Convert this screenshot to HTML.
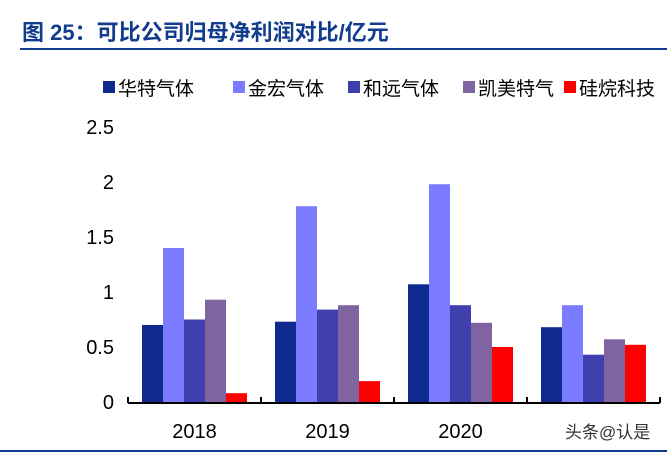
<!DOCTYPE html>
<html><head><meta charset="utf-8"><style>
body{margin:0;width:667px;height:453px;background:#fff;overflow:hidden;font-family:"Liberation Sans","Noto Sans CJK SC",sans-serif}
</style></head><body>
<svg width="667" height="453">
<text x="22" y="40" font-size="22" font-weight="bold" fill="#123d8e" font-family="Liberation Sans, Noto Sans CJK SC, sans-serif">图 25：可比公司归母净利润对比/亿元</text>
<rect x="20" y="48" width="647" height="2" fill="#123d8e"/>
<g id="legend"></g>
<g id="plot"></g>
<text x="565" y="438" font-size="17" fill="#333">头条@认是</text>
<rect x="0" y="450" width="667" height="2" fill="#123d8e"/>
</svg>
<script>
const categories=["2018","2019","2020",""];
const seriesNames=["华特气体","金宏气体","和远气体","凯美特气","硅烷科技"];
const s1=[0.70,0.73,1.07,0.68];
const s2=[1.40,1.78,1.98,0.88];
const s3=[0.75,0.84,0.88,0.43];
const s4=[0.93,0.88,0.72,0.57];
const s5=[0.08,0.19,0.50,0.52];
const yTicks=["0","0.5","1","1.5","2","2.5"];
const colors=["#0e2a8e","#7b7bff","#3f3fae","#8064a2","#ff0000"];
const series=[s1,s2,s3,s4,s5];
const NS="http://www.w3.org/2000/svg";
const plot=document.getElementById('plot'),legend=document.getElementById('legend');
const x0=128,x1=660,y0=402,yTop=127,yMax=2.5;
const y=v=>y0-(v/yMax)*(y0-yTop);
const gw=(x1-x0)/categories.length,bw=21,off=(gw-bw*5)/2;
function mk(t,a){const e=document.createElementNS(NS,t);for(const k in a)e.setAttribute(k,a[k]);return e;}
yTicks.forEach((t,i)=>{const v=parseFloat(t);const e=mk('text',{x:114,y:y(v)+7,'text-anchor':'end','font-size':20,fill:'#000'});e.textContent=t;


plot.appendChild(e);});
series.forEach((s,si)=>s.forEach((v,ci)=>{const r=mk('rect',{x:x0+ci*gw+off+si*bw,y:y(v),width:bw,height:y0-y(v),fill:colors[si]});


plot.appendChild(r);}));
const ax=mk('rect',{x:x0,y:y0,width:x1-x0,height:2,fill:'#000'});


plot.appendChild(ax);
for(let i=0;i<=categories.length;i++){const t=mk('rect',{x:x0+i*gw-1,y:y0-5,width:2,height:6,fill:'#000'});


plot.appendChild(t);}
categories.forEach((c,i)=>{const e=mk('text',{x:x0+i*gw+gw/2,y:438,'text-anchor':'middle','font-size':20,fill:'#000'});e.textContent=c;


plot.appendChild(e);});
const lx=[103,233,348,463,564];
seriesNames.forEach((n,i)=>{const g=mk('g',{});


g.appendChild(mk('rect',{x:lx[i],y:81,width:12,height:12,fill:colors[i]}));
const t=mk('text',{x:lx[i]+15,y:95,'font-size':19,fill:'#000'});t.textContent=n;g.appendChild(t);legend.appendChild(g);});
</script>
</body></html>
